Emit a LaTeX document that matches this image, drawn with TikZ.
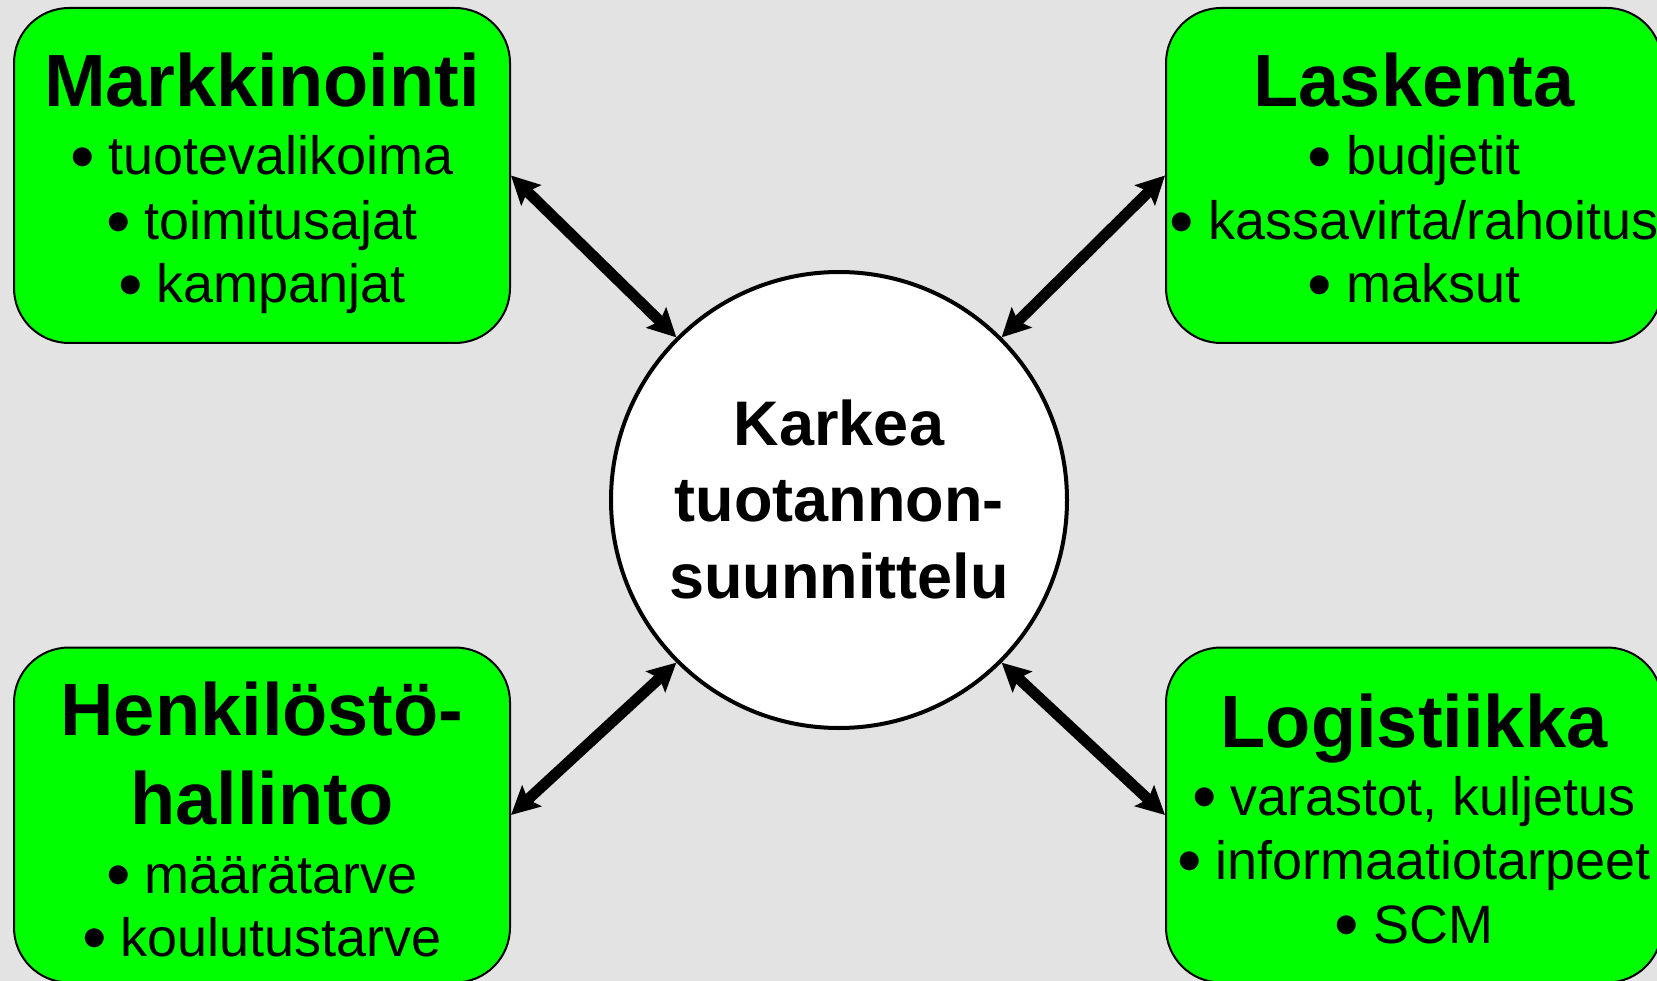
\documentclass[tikz,border=0pt]{standalone}
\usepackage{fontspec}
\setmainfont{Liberation Sans}
\usetikzlibrary{arrows.meta}
\definecolor{bg}{RGB}{227,227,227}
\definecolor{boxgreen}{RGB}{0,255,0}
\newcommand\blt{\raisebox{-0.10em}{\fontsize{70}{70}\selectfont •}\hspace{14pt}}
\tikzset{
  biarrow/.style={draw=black, line width=11pt, {Stealth[length=28pt,width=28pt,inset=5pt]}-{Stealth[length=28pt,width=28pt,inset=5pt]}}
}
\begin{document}
\begin{tikzpicture}[x=1pt,y=-1pt,
  box/.style={draw=black, line width=2pt, fill=boxgreen, rounded corners=55pt, minimum width=496pt, minimum height=335pt, inner sep=0pt},
  ttl/.style={anchor=base, inner sep=0pt, font=\fontsize{74}{80}\selectfont\bfseries},
  itm/.style={anchor=base, inner sep=0pt, font=\fontsize{54}{60}\selectfont},
  ctr/.style={anchor=base, inner sep=0pt, font=\fontsize{63}{70}\selectfont\bfseries}]
\fill[bg] (0,0) rectangle (1657,981);
\useasboundingbox (0,0) rectangle (1657,981);
\clip (0,0) rectangle (1657,981);
% boxes
\node[box] (mk) at (262,175.5) {};
\node[box] (la) at (1414,175.5) {};
\node[box] (he) at (262,815) {};
\node[box] (lo) at (1414,815) {};
\node[circle, draw=black, line width=4pt, fill=white, minimum size=456pt, inner sep=0pt] (c) at (839,500) {};
% arrows
\path[biarrow] (mk.east) -- (c.135);
\path[biarrow] (la.west) -- (c.45);
\path[biarrow] (he.east) -- (c.225);
\path[biarrow] (lo.west) -- (c.315);
% texts
\node[ttl] (mkT) at (262,107) {Markkinointi};
\node[itm] (mk1) at (262,175) {\blt tuotevalikoima};
\node[itm] (mk2) at (262,240) {\blt toimitusajat};
\node[itm] (mk3) at (262,303) {\blt kampanjat};
\node[ttl] (laT) at (1414,107) {Laskenta};
\node[itm] (la1) at (1414,175) {\blt budjetit};
\node[itm] (la2) at (1414,240) {\blt kassavirta/rahoitus};
\node[itm] (la3) at (1414,303) {\blt maksut};
\node[ttl] (heT1) at (262,735) {Henkilöstö-};
\node[ttl] (heT2) at (262,824) {hallinto};
\node[itm] (he1) at (262,893) {\blt määrätarve};
\node[itm] (he2) at (262,956) {\blt koulutustarve};
\node[ttl] (loT) at (1414,747) {Logistiikka};
\node[itm] (lo1) at (1414,815) {\blt varastot, kuljetus};
\node[itm] (lo2) at (1414,879) {\blt informaatiotarpeet};
\node[itm] (lo3) at (1414,943) {\blt SCM};
\node[ctr] (c1) at (839,445) {Karkea};
\node[ctr] (c2) at (839,521) {tuotannon-};
\node[ctr] (c3) at (839,598) {suunnittelu};
\end{tikzpicture}
\end{document}
